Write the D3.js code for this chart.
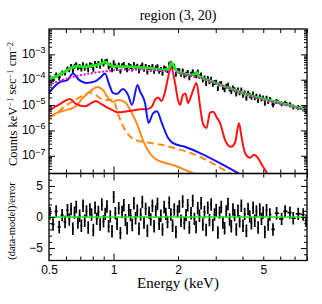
<!DOCTYPE html>
<html><head><meta charset="utf-8">
<script src="https://cdn.jsdelivr.net/npm/d3@7/dist/d3.min.js"></script>
<style>body{margin:0;background:#fff}svg{display:block}</style>
</head><body><svg id="c" width="322" height="304"></svg>
<script>
// ---------------- DATA ----------------
const titleText = "region (3, 20)";
// spectral bins (keV)
const binE = [0.505,0.522,0.540,0.558,0.576,0.594,0.610,
0.622,0.634,0.646,0.658,0.670,0.682,0.695,0.708,0.721,0.734,
0.748,0.762,0.776,0.790,0.805,0.820,0.835,0.850,0.866,0.882,
0.898,0.915,0.932,0.949,0.966,0.984,1.002,1.020,1.039,1.058,
1.077,1.097,1.117,1.137,1.158,1.179,1.201,1.223,1.245,1.268,
1.291,1.315,1.339,1.363,1.388,1.413,1.439,1.465,1.492,1.519,
1.547,1.575,1.604,1.633,1.663,1.693,1.724,1.755,1.787,1.820,
1.853,1.887,1.921,1.956,1.992,2.028,2.065,2.103,2.141,2.180,
2.220,2.260,2.301,2.343,2.386,2.429,2.473,2.518,2.564,2.611,
2.658,2.706,2.755,2.805,2.856,2.908,2.961,3.015,3.070,3.126,
3.183,3.241,3.300,3.360,3.421,3.483,3.546,3.610,3.675,3.742,
3.810,3.879,3.950,4.022,4.095,4.170,4.246,4.323,4.402,4.482,
4.563,4.646,4.731,4.817,4.905,4.994,5.085,5.178,5.272,5.368,
5.55,5.77,6.09,6.32,6.66,6.90,7.28,7.68,7.92];
// observed counts (units of 1e-5 counts keV^-1 s^-1 cm^-2)
const countUnit = 1e-5;
const counts = [11.9,10.6,15.6,12.6,19.0,19.0,27.4,
25.1,34.1,23.3,34.9,39.9,30.0,34.3,26.8,39.7,29.1,
36.1,26.0,39.9,37.6,26.7,45.2,37.5,44.4,35.0,54.4,
42.3,52.7,55.0,32.6,38.2,25.1,48.1,36.1,28.6,39.4,
21.9,36.4,41.2,30.8,25.2,37.5,34.0,26.8,41.0,30.7,
35.1,23.2,32.0,39.4,26.2,34.3,20.7,31.2,26.7,34.2,
21.9,29.8,33.4,22.0,25.9,18.2,30.0,27.0,23.7,41.6,
46.3,32.7,34.7,16.9,24.0,23.2,16.6,22.9,14.6,16.9,
19.8,12.2,16.9,21.4,15.8,14.7,20.7,13.9,15.9,9.9,
12.1,7.3,11.5,8.5,10.8,6.7,8.0,8.2,4.6,7.0,
7.3,5.0,4.1,5.7,6.2,4.4,3.5,4.8,4.1,2.8,
4.0,3.1,4.0,2.5,3.1,1.9,3.0,2.5,2.1,2.8,
2.0,2.3,1.55,2.2,1.76,1.97,1.2,1.93,1.4,1.71,
1.06,1.42,1.14,1.22,1.05,0.86,0.82,0.72,0.58];
const countRelErr = 0.22;
// residuals (data-model)/error
const resid = [0.6,-1.2,0.9,-1.6,0.3,-0.8,1.1,
-0.4,1.3,-1.9,0.7,1.6,-0.9,0.2,-1.4,1.8,-0.6,
0.9,-1.7,1.2,0.4,-2.1,1.5,-0.3,0.8,-1.2,2.0,
-0.7,0.5,1.7,-1.5,0.1,-2.3,3.2,0.6,-1.1,1.4,
-2.6,0.8,1.9,-0.5,-1.8,1.1,0.3,-1.3,2.2,-0.2,
1.0,-1.9,0.4,2.4,-0.9,1.3,-2.2,0.7,-0.4,1.8,
-1.5,0.9,2.1,-1.1,0.2,-2.0,1.6,0.5,-0.8,2.3,
0.4,-1.4,1.2,-2.4,0.9,1.7,-0.6,2.5,-1.0,0.3,
1.9,-1.7,0.6,2.6,-0.3,-1.6,1.4,0.2,2.2,-1.2,
0.8,-2.1,1.5,-0.5,2.0,-1.3,0.4,1.1,-2.5,0.7,
1.6,-0.9,-1.8,0.9,2.1,-0.4,-1.5,1.2,0.3,-2.0,
1.0,-0.7,1.8,-1.4,0.5,-2.2,1.3,0.1,-1.0,1.5,
-0.6,0.9,-1.7,1.2,-0.3,0.7,-2.4,1.1,-1.2,0.4,
-2.0,0.6,-0.3,0.9,0.7,-0.2,0.5,0.4,-0.6];
const residErr = 1;

// total model (green)
const totalE = [0.5,0.55,0.594,0.64,0.683,0.736,0.794,0.875,0.913,0.963,1.016,1.1,1.194,1.3,1.48,1.7,1.8,1.862,1.95,2.04,2.18,2.28,2.4,2.45,2.5,2.56,2.82,3.14,3.6,4.26,5.0,6.09,7.0,8.0];
const totalV = [1.07e-4,1.48e-4,2.12e-4,3.05e-4,3.4e-4,3.15e-4,3.6e-4,4.2e-4,5.0e-4,3.8e-4,3.35e-4,3.3e-4,3.28e-4,3.1e-4,2.84e-4,2.45e-4,2.6e-4,4.7e-4,2.43e-4,1.85e-4,1.65e-4,1.55e-4,1.65e-4,1.94e-4,1.4e-4,1.25e-4,9.0e-5,6.3e-5,4.2e-5,2.55e-5,1.75e-5,1.19e-5,8.5e-6,6.2e-6];
// continuum (magenta dotted)
const contE = [0.5,0.55,0.6,0.65,0.7,0.8,0.9,1.0,1.2,1.4,1.6,1.8,2.0,2.3,2.6,3.0,3.5,4.0,4.5,5.0,6.0,7.0,8.0];
const contV = [6.5e-5,8.5e-5,1.08e-4,1.3e-4,1.5e-4,1.85e-4,2.1e-4,2.35e-4,2.5e-4,2.45e-4,2.3e-4,2.1e-4,1.85e-4,1.45e-4,1.1e-4,7.2e-5,4.5e-5,3.0e-5,2.1e-5,1.6e-5,1.15e-5,8.2e-6,6.0e-6];
// blue component
const blueE = [0.5,0.533,0.569,0.607,0.647,0.69,0.744,0.82,0.875,0.913,0.953,0.994,1.038,1.107,1.169,1.22,1.294,1.33,1.403,1.457,1.529,1.595,1.68,1.796,1.896,2.156,2.533,3.14,3.977];
const blueV = [3.02e-5,5.7e-5,8.5e-5,9.4e-5,1.77e-4,9.82e-5,7.48e-5,8.57e-5,1.29e-4,1.77e-4,6.84e-5,3.02e-5,2.76e-5,4.34e-5,2.52e-5,1.02e-5,6.24e-5,3.46e-5,1.22e-5,1.99e-6,4.71e-6,5.65e-6,1.99e-6,5.12e-7,3.16e-7,2.26e-7,1.28e-7,5.16e-8,1.7e-8];
// red component
const redE = [0.5,0.533,0.569,0.594,0.627,0.668,0.736,0.777,0.828,0.875,0.923,0.984,1.049,1.156,1.33,1.449,1.512,1.562,1.613,1.675,1.739,1.796,1.855,1.937,2.0,2.044,2.11,2.167,2.226,2.312,2.44,2.533,2.616,2.717,2.82,2.913,3.04,3.14,3.314,3.535,3.69,3.851,3.956,4.107,4.335,4.524,4.673,4.93,5.26,5.49];
const redV = [5.91e-6,8.5e-6,1.17e-5,1.46e-5,1.75e-5,1.11e-5,8.89e-6,1.11e-5,1.46e-5,1.11e-5,8.5e-6,6.47e-6,5.16e-6,5.65e-6,6.77e-6,7.08e-6,8.89e-6,1.6e-5,2.01e-5,1.46e-5,3.31e-5,1.18e-4,3.19e-4,7.48e-5,1.6e-5,1.02e-5,2.52e-5,2.89e-5,1.22e-5,2.52e-5,7.48e-5,9.3e-6,1.82e-6,1.26e-6,4.93e-6,5.4e-6,3.13e-6,1.99e-6,4.27e-7,2.26e-7,3.25e-7,1.9e-6,5.75e-7,1.31e-7,8.34e-8,1.09e-7,9.14e-8,4.42e-8,1.79e-8,1.04e-8];
// orange solid component
const orangeE = [0.5,0.545,0.607,0.661,0.72,0.794,0.838,0.893,0.942,0.994,1.049,1.131,1.207,1.287,1.358,1.433,1.562,1.739,1.937,2.35,2.67];
const orangeV = [3.43e-6,4.93e-6,6.47e-6,8.5e-6,1.92e-5,3.97e-5,5.21e-5,3.97e-5,1.92e-5,1.34e-5,1.6e-5,1.3e-5,5.6e-6,1.8e-6,5.1e-7,1.9e-7,7.6e-8,5.3e-8,4.04e-8,2.05e-8,1.36e-8];
// orange dashed component
const orangeDE = [0.5,0.539,0.581,0.627,0.675,0.728,0.777,0.828,0.875,0.923,0.984,1.016,1.049,1.095,1.156,1.233,1.33,1.48,1.666,1.937,2.275,2.82,3.386,3.89];
const orangeDV = [3.13e-6,4.5e-6,7.76e-6,1.22e-5,1.75e-5,2.52e-5,3.16e-5,2.52e-5,1.75e-5,1.6e-5,1.6e-5,1.11e-5,4.5e-6,1.82e-6,8.05e-7,4.67e-7,3.72e-7,3.25e-7,2.71e-7,1.97e-7,1.31e-7,5.8e-8,2.34e-8,1.24e-8];

const xLabelTicks = [0.5,1,2,5];
const xMajorTicks = [1];
const xMinorTicks = [0.6,0.7,0.8,0.9,2,3,4,5,6,7,8];
const yLabelExps = [-7,-6,-5,-4,-3];
const rLabelTicks = [-5,0,5];

// ---------------- LAYOUT ----------------
const L=49, R=307, T=29, M=173.5, B=260.5;
const sans = "'Liberation Sans', Arial, Helvetica, sans-serif";
const serif = "'Liberation Serif', 'Times New Roman', serif";
const svg = d3.select("#c");
const x = d3.scaleLog().domain([0.5,8]).range([L,R]);
const y = d3.scaleLog().domain([2e-8,1e-2]).range([M,T]);
const yr = d3.scaleLinear().domain([-7,7]).range([B,M]);

const defs = svg.append("defs");
defs.append("clipPath").attr("id","ct").append("rect").attr("x",L).attr("y",T).attr("width",R-L).attr("height",M-T);
defs.append("clipPath").attr("id","cb").append("rect").attr("x",L).attr("y",M).attr("width",R-L).attr("height",B-M);

// bin edges (geometric midpoints between bin centres)
const edges = binE.map((e,i)=>{
  const lo = i>0 ? Math.sqrt(binE[i-1]*e) : e*e/Math.sqrt(e*binE[i+1]);
  const hi = i<binE.length-1 ? Math.sqrt(binE[i+1]*e) : e*e/Math.sqrt(e*binE[i-1]);
  return [lo,hi];
});

// ---------- top panel ----------
const gt = svg.append("g").attr("clip-path","url(#ct)");
const dataG = gt.append("g").attr("stroke","#000").attr("stroke-width",1.8);
binE.forEach((e,i)=>{
  const c = counts[i]*countUnit;
  dataG.append("line").attr("x1",x(e)).attr("x2",x(e))
    .attr("y1",y(c*(1+countRelErr))).attr("y2",y(c*(1-countRelErr)));
  dataG.append("line").attr("x1",x(edges[i][0])).attr("x2",x(edges[i][1]))
    .attr("y1",y(c)).attr("y2",y(c));
});
const mk = d3.line().x(d=>x(d[0])).y(d=>y(d[1])).curve(d3.curveMonotoneX);
function curve(E,V,color,w,dash,cap){
  gt.append("path").attr("d",mk(d3.zip(E,V))).attr("fill","none")
    .attr("stroke",color).attr("stroke-width",w)
    .attr("stroke-dasharray",dash||null).attr("stroke-linecap",cap||"butt")
    .attr("stroke-linejoin","round");
}
curve(orangeDE,orangeDV,"#ff8c1a",2,"7,4");
curve(orangeE,orangeV,"#ff8c1a",2);
curve(redE,redV,"#ff1414",2);
curve(blueE,blueV,"#1414ff",2);
curve(totalE,totalV,"#1ee81e",2.8);
curve(contE,contV,"#e010e0",2.2,"0.1,3.6","round");

// ---------- bottom panel ----------
const gb = svg.append("g").attr("clip-path","url(#cb)");
const rG = gb.append("g").attr("stroke","#000").attr("stroke-width",1.7);
binE.forEach((e,i)=>{
  rG.append("line").attr("x1",x(e)).attr("x2",x(e))
    .attr("y1",yr(resid[i]+residErr)).attr("y2",yr(resid[i]-residErr));
  rG.append("line").attr("x1",x(edges[i][0])).attr("x2",x(edges[i][1]))
    .attr("y1",yr(resid[i])).attr("y2",yr(resid[i]));
});
gb.append("line").attr("x1",L).attr("x2",R).attr("y1",yr(0)).attr("y2",yr(0))
  .attr("stroke","#1ee81e").attr("stroke-width",1.5);

// ---------- axes / ticks ----------
function ticks(axis, tx, ty){
  const g = svg.append("g").attr("transform",`translate(${tx},${ty})`).call(axis);
  g.select(".domain").remove();
  g.selectAll("line").attr("stroke","#000").attr("stroke-width",1);
  return g;
}
const yMinor = [];
for(let n=-8;n<=-3;n++) for(let k=2;k<=9;k++){const v=k*Math.pow(10,n); if(v>2e-8&&v<1e-2) yMinor.push(v);}
const yMajor = [1e-7,1e-6,1e-5,1e-4,1e-3];
const rMinor = d3.range(-6,7).filter(v=>v%5!==0);
// x ticks on all horizontal edges, pointing into each panel
[[T,"down"],[M,"up"],[M,"down"],[B,"up"]].forEach(([yy,dir])=>{
  const ax = dir==="down" ? d3.axisTop : d3.axisBottom;
  ticks(ax(x).tickValues(xMinorTicks).tickSizeInner(-4).tickSizeOuter(0).tickFormat(""),0,yy);
  ticks(ax(x).tickValues(xMajorTicks).tickSizeInner(-7).tickSizeOuter(0).tickFormat(""),0,yy);
});
// y ticks top panel
ticks(d3.axisLeft(y).tickValues(yMinor).tickSizeInner(-3).tickSizeOuter(0).tickFormat(""),L,0);
ticks(d3.axisLeft(y).tickValues(yMajor).tickSizeInner(-6).tickSizeOuter(0).tickFormat(""),L,0);
ticks(d3.axisRight(y).tickValues(yMinor).tickSizeInner(-3).tickSizeOuter(0).tickFormat(""),R,0);
ticks(d3.axisRight(y).tickValues(yMajor).tickSizeInner(-6).tickSizeOuter(0).tickFormat(""),R,0);
// y ticks bottom panel
ticks(d3.axisLeft(yr).tickValues(rMinor).tickSizeInner(-3).tickSizeOuter(0).tickFormat(""),L,0);
ticks(d3.axisLeft(yr).tickValues(rLabelTicks).tickSizeInner(-6).tickSizeOuter(0).tickFormat(""),L,0);
ticks(d3.axisRight(yr).tickValues(rMinor).tickSizeInner(-3).tickSizeOuter(0).tickFormat(""),R,0);
ticks(d3.axisRight(yr).tickValues(rLabelTicks).tickSizeInner(-6).tickSizeOuter(0).tickFormat(""),R,0);

// frames
svg.append("rect").attr("x",L).attr("y",T).attr("width",R-L).attr("height",M-T)
  .attr("fill","none").attr("stroke","#000").attr("stroke-width",1.3);
svg.append("rect").attr("x",L).attr("y",M).attr("width",R-L).attr("height",B-M)
  .attr("fill","none").attr("stroke","#000").attr("stroke-width",1.3);

// labels
const xl = svg.append("g").attr("transform",`translate(0,${B})`)
  .call(d3.axisBottom(x).tickValues(xLabelTicks).tickSize(0).tickPadding(4.5).tickFormat(d=>String(d)));
xl.select(".domain").remove();
xl.selectAll("text").attr("font-family",sans).attr("font-size",12).attr("fill","#000");

const yl = svg.append("g").attr("transform",`translate(${L},0)`)
  .call(d3.axisLeft(y).tickValues(yLabelExps.map(e=>Math.pow(10,e))).tickSize(0).tickPadding(3.5).tickFormat(""));
yl.select(".domain").remove();
yl.selectAll("text").each(function(d){
  const t = d3.select(this).attr("font-family",sans).attr("fill","#000");
  t.append("tspan").attr("font-size",12).text("10");
  t.append("tspan").attr("font-size",9).attr("dy","-0.55em").text("\u2212"+(-Math.round(Math.log10(d))));
});

const rl = svg.append("g").attr("transform",`translate(${L},0)`)
  .call(d3.axisLeft(yr).tickValues(rLabelTicks).tickSize(0).tickPadding(6).tickFormat(d=>d<0?"\u2212"+(-d):String(d)));
rl.select(".domain").remove();
rl.selectAll("text").attr("font-family",sans).attr("font-size",12).attr("fill","#000");

svg.append("text").attr("x",178).attr("y",20).attr("text-anchor","middle")
  .attr("font-family",serif).attr("font-size",14).text(titleText);
svg.append("text").attr("x",178).attr("y",288).attr("text-anchor","middle")
  .attr("font-family",serif).attr("font-size",15).text("Energy (keV)");

const yt = svg.append("text").attr("transform","translate(16.5,104) rotate(-90)")
  .attr("text-anchor","middle").attr("font-family",serif).attr("font-size",12.5);
[["Counts keV",0],["\u22121",1],[" sec",0],["\u22121",1],[" cm",0],["\u22122",1]].forEach(([s,sup])=>{
  yt.append("tspan").attr("font-size",sup?8.5:12.5).attr("dy",sup?"-0.45em":(s==="Counts keV"?"0":"0.3em")).text(s);
});
svg.append("text").attr("transform","translate(14.5,221) rotate(-90)")
  .attr("text-anchor","middle").attr("font-family",serif).attr("font-size",10.5).text("(data-model)/error");
</script>
</body></html>
